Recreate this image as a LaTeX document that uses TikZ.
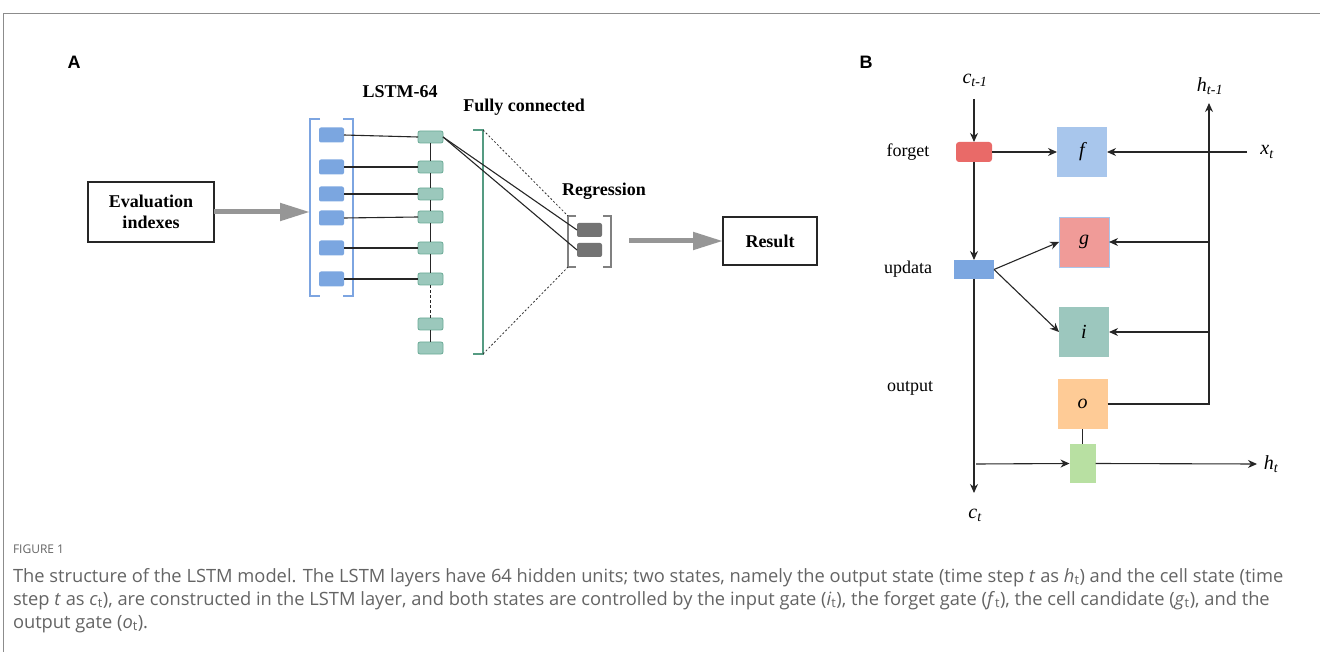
\documentclass[tikz,border=0pt]{standalone}
\usepackage{fontspec}
\setmainfont{Liberation Serif}
\newfontfamily\capfont{Open Sans}
\newfontfamily\labfont{Liberation Sans}
\usetikzlibrary{arrows.meta}
\definecolor{inblue}{RGB}{123,166,224}
\definecolor{brblue}{RGB}{125,165,225}
\definecolor{lstmfill}{RGB}{155,200,188}
\definecolor{lstmdraw}{RGB}{105,170,150}
\definecolor{fcteal}{RGB}{85,155,130}
\definecolor{regfill}{RGB}{115,115,115}
\definecolor{arrowgray}{RGB}{150,150,150}
\definecolor{fblue}{RGB}{168,198,236}
\definecolor{gpink}{RGB}{240,155,152}
\definecolor{iteal}{RGB}{156,199,190}
\definecolor{oorange}{RGB}{254,203,150}
\definecolor{ggreen}{RGB}{184,224,162}
\definecolor{fred}{RGB}{233,106,104}
\definecolor{capgray}{RGB}{100,100,100}
\definecolor{framegray}{RGB}{140,140,140}
\begin{document}
\begin{tikzpicture}[x=1pt,y=-1pt,
  every node/.style={inner sep=0pt, outer sep=0pt},
  ttl/.style={font=\fontsize{18}{21}\selectfont\bfseries},
  panel/.style={font=\labfont\fontsize{18}{20}\selectfont\bfseries},
  lbl/.style={font=\fontsize{18}{20}\selectfont},
  mth/.style={font=\fontsize{20}{22}\selectfont\itshape},
  box/.style={draw=black!85, line width=1.2pt, fill=white, align=center},
  inunit/.style={rectangle, rounded corners=2pt, fill=inblue, minimum width=25pt, minimum height=15pt},
  lunit/.style={rectangle, rounded corners=2pt, fill=lstmfill, draw=lstmdraw, line width=0.8pt, minimum width=25pt, minimum height=12pt},
  runit/.style={rectangle, rounded corners=2pt, fill=regfill, minimum width=25pt, minimum height=14pt},
  bigarrow/.style={draw=arrowgray, line width=5pt, -{Triangle[length=30pt,width=17pt]}},
  conn/.style={draw=black!85, line width=1.1pt},
  arr/.style={conn, -{Stealth[length=9pt,width=8pt]}},
  dotl/.style={draw=black!80, line width=0.8pt, dash pattern=on 2pt off 2pt},
  gate/.style={minimum width=50pt, minimum height=50pt, mth},
  captext/.style={font=\capfont\fontsize{18.3}{21}\selectfont, text=capgray, anchor=base west}
]
\useasboundingbox (0,0) rectangle (1320,652);
\draw[framegray, line width=1pt] (3,652) -- (3,14) -- (1320,14);

% ---------- Panel A ----------
\node[panel] (A) at (74,62) {A};
\node[box, minimum width=126pt, minimum height=60pt, font=\fontsize{18}{21}\selectfont\bfseries] (eval) at (151,212) {Evaluation\\indexes};

\node[minimum width=43pt, minimum height=177pt] (inl) at (331.5,207.5) {};
\draw[brblue, line width=1.5pt] ([xshift=10pt]inl.north west) -- (inl.north west) -- (inl.south west) -- ([xshift=10pt]inl.south west);
\draw[brblue, line width=1.5pt] ([xshift=-10pt]inl.north east) -- (inl.north east) -- (inl.south east) -- ([xshift=-10pt]inl.south east);
\draw[bigarrow] (eval.east) -- (eval.east -| inl.west);

\foreach \k/\y in {1/135,2/167,3/194,4/218,5/248,6/279}
  \node[inunit] (i\k) at (331.5,\y) {};
\foreach \k/\y in {1/137,2/167,3/194,4/217,5/248,6/279,7/324,8/348}
  \node[lunit] (l\k) at (430.5,\y) {};
\foreach \k in {1,...,6}
  \draw[conn] (i\k.east) -- (l\k.west);
\foreach \a/\b in {1/2,2/3,3/4,4/5,5/6,7/8}
  \draw[conn] (l\a.south) -- (l\b.north);
\draw[conn, dash pattern=on 3pt off 2pt] (l6.south) -- (l7.north);

\node[minimum width=10pt, minimum height=224pt] (fc) at (478,242) {};
\draw[fcteal, line width=2pt] (fc.north west) -- (fc.north east) -- (fc.south east) -- (fc.south west);

\node[minimum width=43pt, minimum height=51pt] (reg) at (589.5,241.5) {};
\draw[gray, line width=1.5pt] ([xshift=8pt]reg.north west) -- (reg.north west) -- (reg.south west) -- ([xshift=8pt]reg.south west);
\draw[gray, line width=1.5pt] ([xshift=-8pt]reg.north east) -- (reg.north east) -- (reg.south east) -- ([xshift=-8pt]reg.south east);
\node[runit] (r1) at (589.5,230) {};
\node[runit] (r2) at (589.5,250) {};
\draw[conn] (l1.east) -- (r1.west);
\draw[conn] (l1.east) -- (r2.west);
\draw[dotl] (fc.north east) -- (reg.north west);
\draw[dotl] (fc.south east) -- (reg.south west);

\node[box, minimum width=94pt, minimum height=48pt, font=\fontsize{18}{21}\selectfont\bfseries] (res) at (770,241) {Result};
\coordinate (regout) at (629,241);
\draw[bigarrow] (regout) -- (res.west);

\node[ttl] (lstmlbl) at (400,92) {LSTM-64};
\node[ttl] (fclbl) at (524,107) {Fully connected};
\node[ttl] (reglbl) at (604,191) {Regression};

% ---------- Panel B ----------
\node[panel] (B) at (866,62) {B};
\node[mth] (cin) at (975,80) {c\textsubscript{t-1}};
\coordinate (cinend) at (974,99);
\node[fill=fred, rounded corners=3pt, minimum width=36pt, minimum height=20pt] (fg) at (974,152) {};
\node[lbl] (fgl) at (908,152) {forget};
\node[gate, fill=fblue] (f) at (1082,152) {f};
\node[mth] (xt) at (1267,152) {x\textsubscript{t}};
\coordinate (xin) at (1247,152);
\node[mth] (htm) at (1210,86) {h\textsubscript{t-1}};
\coordinate (hup) at (1209,103);
\node[gate, fill=gpink, draw=fblue, line width=0.8pt] (g) at (1084,242) {g};
\node[gate, fill=iteal] (ig) at (1084,332) {i};
\node[gate, fill=oorange] (o) at (1082.5,404) {o};
\node[fill=inblue, minimum width=40pt, minimum height=19pt] (up) at (974,269.5) {};
\node[lbl] (upl) at (908,269) {updata};
\node[lbl] (outl) at (910,388) {output};
\node[fill=ggreen, minimum width=26pt, minimum height=39pt] (gr) at (1082.5,463.5) {};
\node[mth] (ht) at (1271,464) {h\textsubscript{t}};
\node[mth] (ct) at (975,515) {c\textsubscript{t}};
\coordinate (gj) at (1209,242);
\coordinate (ij) at (1209,332);
\coordinate (cout) at (974,493);
\coordinate (cj) at (976,464);
\coordinate (hout) at (1257,464);

\draw[arr] (cinend) -- (fg.north);
\draw[arr] (fg.east) -- (f.west);
\draw[arr] (xin) -- (f.east);
\draw[arr] (fg.south) -- (up.north);
\draw[arr] (up.east) -- (g.west);
\draw[arr] (up.east) -- (ig.west);
\draw[arr] (o.east) -| (hup);
\draw[arr] (gj) -- (g.east);
\draw[arr] (ij) -- (ig.east);
\draw[conn] (o.south) -- (gr.north);
\draw[arr] (up.south) -- (cout);
\draw[arr] (cj) -- (gr.west);
\draw[arr] (gr.east) -- (hout);

% ---------- Caption ----------
\node[captext, font=\capfont\fontsize{12}{14}\selectfont] (figlbl) at (13,553) {FIGURE 1};
\node[captext] (cap1) at (13,582) {The structure of the LSTM model. The LSTM layers have 64 hidden units; two states, namely the output state (time step \textit{t} as \textit{h}\textsubscript{t}) and the cell state (time};
\node[captext] (cap2) at (13,605) {step \textit{t} as \textit{c}\textsubscript{t}), are constructed in the LSTM layer, and both states are controlled by the input gate (\textit{i}\textsubscript{t}), the forget gate (\textit{f}\textsubscript{t}), the cell candidate (\textit{g}\textsubscript{t}), and the};
\node[captext] (cap3) at (13,628) {output gate (\textit{o}\textsubscript{t}).};
\end{tikzpicture}
\end{document}
